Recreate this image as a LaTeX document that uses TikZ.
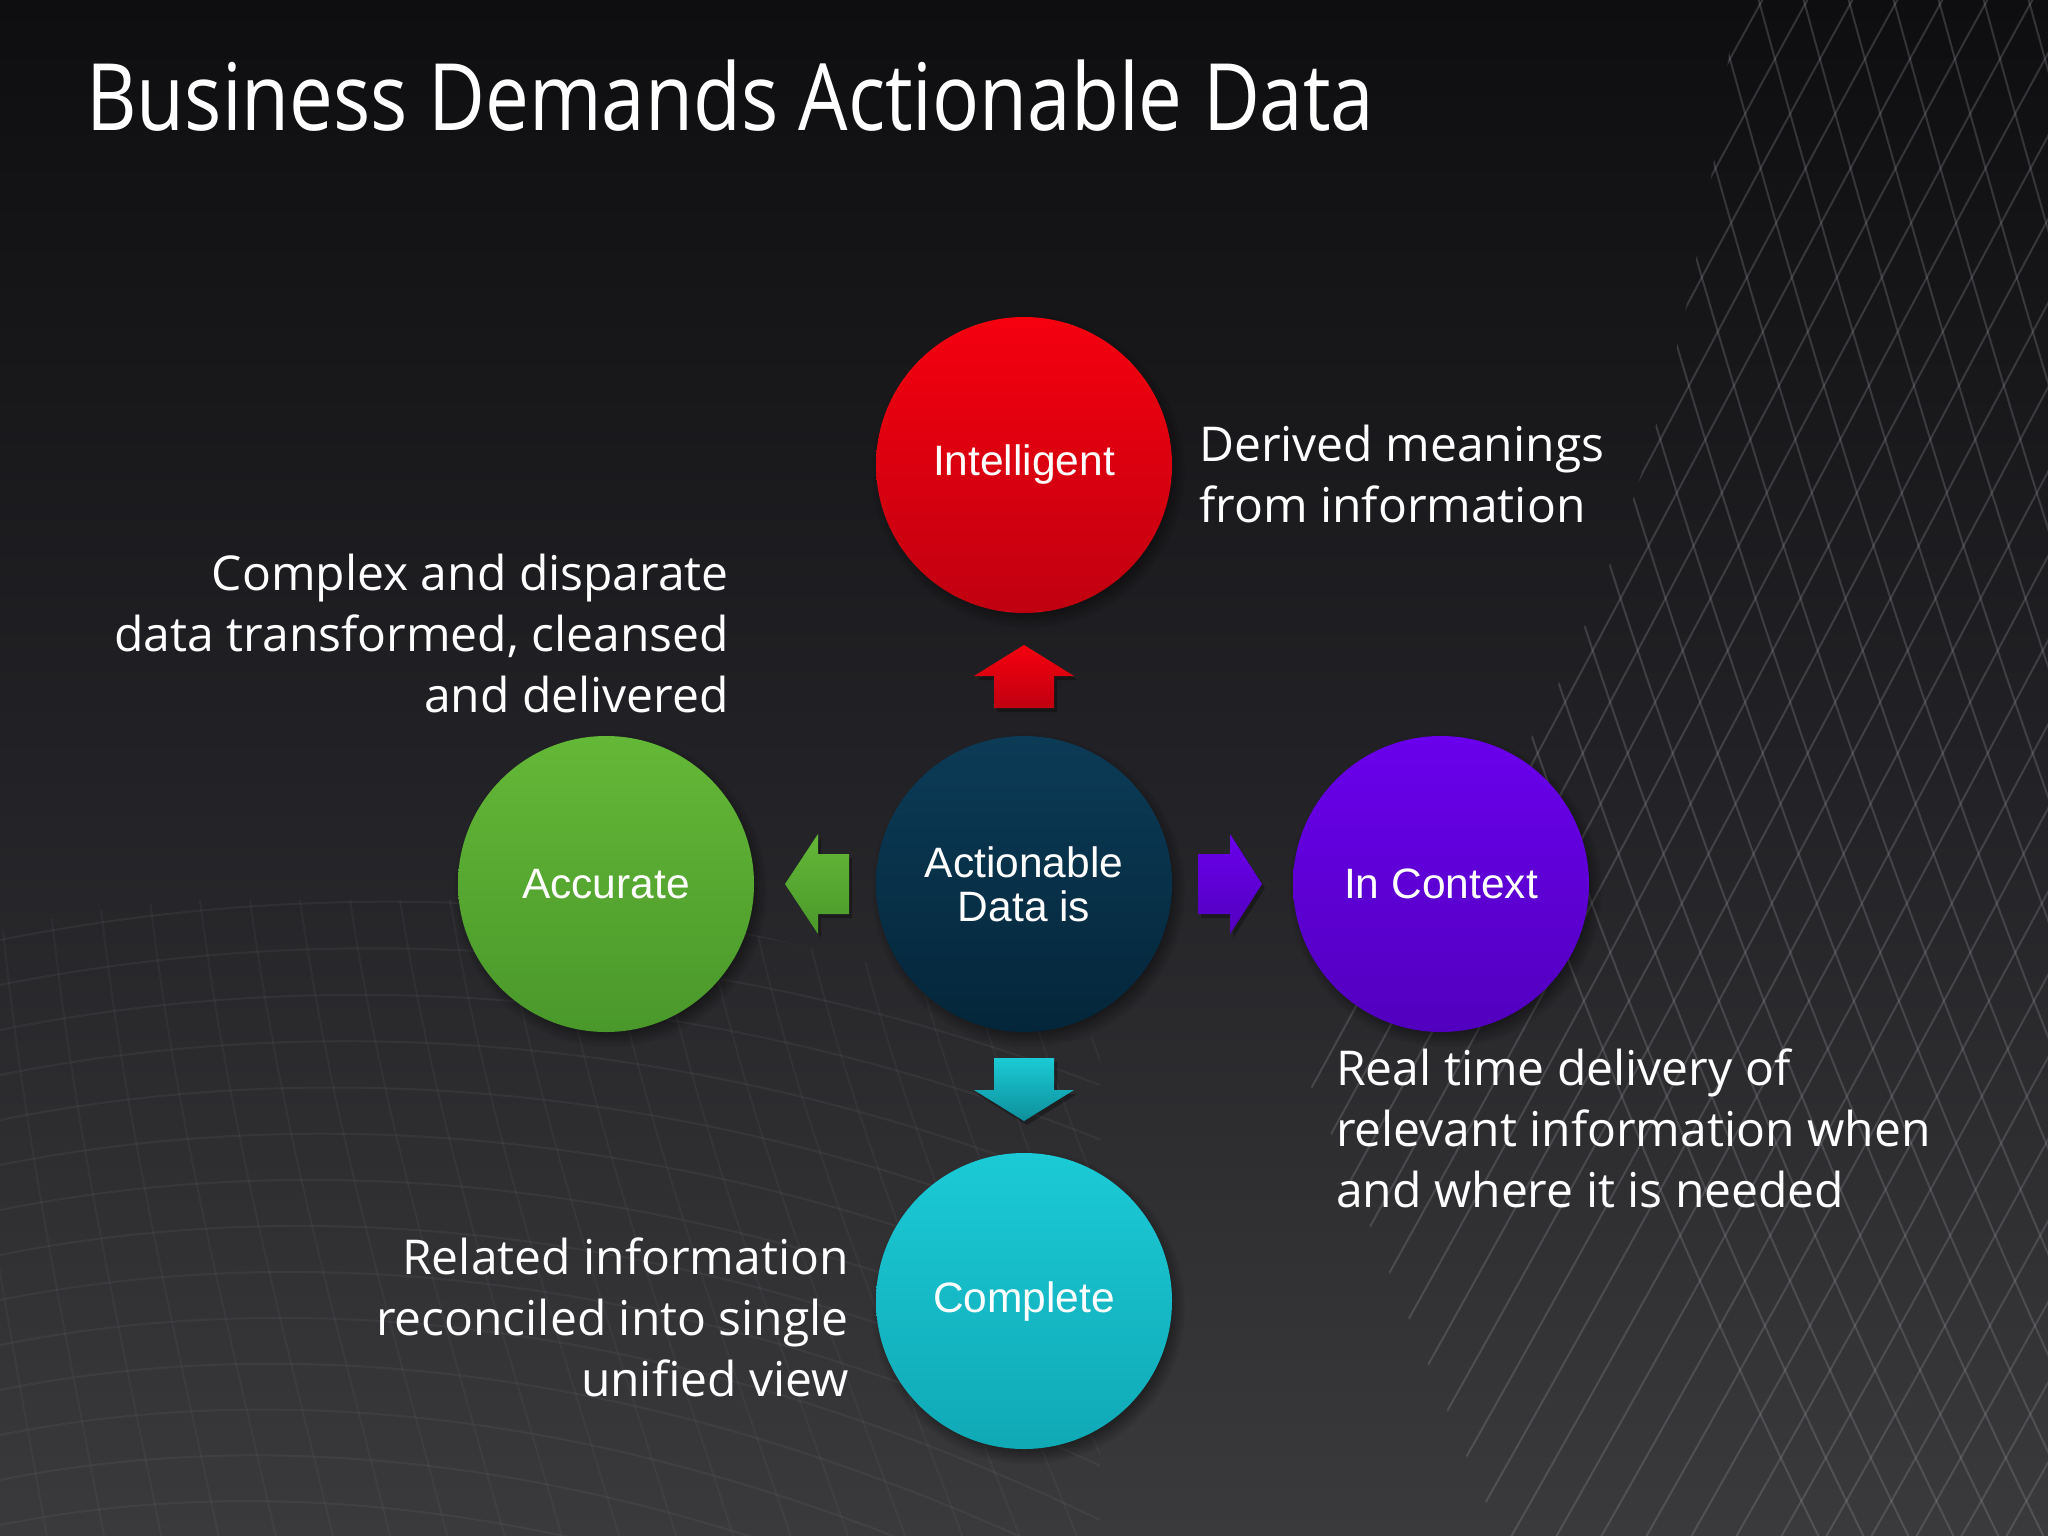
\documentclass[tikz,border=0pt]{standalone}
\usepackage{fontspec}
\setmainfont{Open Sans}
\newfontfamily\titlefont[FakeStretch=0.84]{Open Sans}
\newfontfamily\circfont{Liberation Sans}
\usetikzlibrary{shadows,calc}
\definecolor{bgtop}{HTML}{0E0E10}
\definecolor{bgmid}{HTML}{222226}
\definecolor{bgbot}{HTML}{3A3A3C}
\definecolor{redT}{HTML}{F5000F}
\definecolor{redB}{HTML}{C00010}
\definecolor{navyT}{HTML}{0C3B57}
\definecolor{navyB}{HTML}{04263A}
\definecolor{grnT}{HTML}{64B837}
\definecolor{grnB}{HTML}{4A982B}
\definecolor{purT}{HTML}{6A00EC}
\definecolor{purB}{HTML}{5200BE}
\definecolor{cyT}{HTML}{1BCAD6}
\definecolor{cyB}{HTML}{10A9B6}
\definecolor{meshc}{HTML}{8A8A90}
\tikzset{
  ball/.style={circle, minimum size=296pt, inner sep=0pt, text=white,
    font=\circfont\fontsize{42.5}{44}\selectfont, align=center,
    circular drop shadow={shadow xshift=4pt, shadow yshift=-6pt, opacity=0.55, shadow scale=1.06, fill=black}},
  desc/.style={text=white, font=\fontsize{48}{61}\selectfont, inner sep=0pt},
  blockarrow/.style={drop shadow={shadow xshift=3pt, shadow yshift=-4pt, opacity=0.3, fill=black}},
  meshline/.style={draw=meshc, line width=2pt}
}
\begin{document}
\begin{tikzpicture}[x=1pt,y=-1pt]
\useasboundingbox (0,0) rectangle (2048,1536);
% background
\shade[top color=bgtop, bottom color=bgbot, middle color=bgmid] (0,0) rectangle (2048,1536);
% right mesh
\begin{scope}
\clip (1735,0) .. controls (1690,420) and (1580,760) .. (1300,1060) -- (1500,1536) -- (2048,1536) -- (2048,0) -- cycle;
\foreach \i in {0,...,44}{
  \draw[meshline, opacity=0.3] ({1250+\i*45},-50) .. controls ({1250+\i*45+150},500) and ({1250+\i*45+300},1000) .. ({1250+\i*45+600},1600);
  \draw[meshline, opacity=0.3] ({1250+\i*45},-50) .. controls ({1250+\i*45-250},400) and ({1250+\i*45-500},900) .. ({1250+\i*45-900},1600);
}
\end{scope}
% bottom-left mesh
\begin{scope}
\clip (0,930) .. controls (300,860) and (700,880) .. (1100,1040) -- (1100,1536) -- (0,1536) -- cycle;
\foreach \i in {0,...,14}{
  \draw[meshline, opacity=0.1] (0,{940+\i*45}) .. controls (350,{870+\i*45}) and (750,{890+\i*50}) .. (1150,{1050+\i*55});
}
\foreach \i in {0,...,24}{
  \draw[meshline, opacity=0.08] ({-100+\i*50},900) .. controls ({-80+\i*52},1150) and ({-40+\i*55},1350) .. ({\i*58},1600);
}
\end{scope}
% title
\node[anchor=base west, text=white, inner sep=0pt, font=\titlefont\fontsize{93}{100}\selectfont] (title) at (86,131) {Business Demands Actionable Data};
% circles
\node[ball, top color=navyT, bottom color=navyB] (act) at (1024,884) {Actionable\\Data is};
\node[ball, top color=redT, bottom color=redB] (intel) at (1024,465) {Intelligent};
\node[ball, top color=grnT, bottom color=grnB] (acc) at (606,884) {Accurate};
\node[ball, top color=purT, bottom color=purB] (ctx) at (1441,884) {In Context};
\node[ball, top color=cyT, bottom color=cyB] (comp) at (1024,1301) {Complete};
% block arrows
\shade[blockarrow, top color=redT, bottom color=redB]
  ($(act)+(-30,-176)$) -- ($(act)+(-30,-208)$) -- ($(act)+(-50,-208)$) -- ($(act)+(0,-239)$)
  -- ($(act)+(50,-208)$) -- ($(act)+(30,-208)$) -- ($(act)+(30,-176)$) -- cycle;
\shade[blockarrow, top color=cyT, bottom color=cyB!85!black]
  ($(act)+(-30,174)$) -- ($(act)+(-30,206)$) -- ($(act)+(-50,206)$) -- ($(act)+(0,237)$)
  -- ($(act)+(50,206)$) -- ($(act)+(30,206)$) -- ($(act)+(30,174)$) -- cycle;
\shade[blockarrow, top color=grnT, bottom color=grnB]
  ($(act)+(-175,-30)$) -- ($(act)+(-206,-30)$) -- ($(act)+(-206,-50)$) -- ($(act)+(-239,0)$)
  -- ($(act)+(-206,50)$) -- ($(act)+(-206,30)$) -- ($(act)+(-175,30)$) -- cycle;
\shade[blockarrow, top color=purT, bottom color=purB]
  ($(act)+(174,-30)$) -- ($(act)+(206,-30)$) -- ($(act)+(206,-50)$) -- ($(act)+(238,0)$)
  -- ($(act)+(206,50)$) -- ($(act)+(206,30)$) -- ($(act)+(174,30)$) -- cycle;
% descriptions
\node[desc, anchor=west, align=left] (dIntel) at (1199,474) {Derived meanings\\from information};
\node[desc, anchor=east, align=right] (dAcc) at (729,633) {Complex and disparate\\data transformed, cleansed\\and delivered};
\node[desc, anchor=west, align=left] (dCtx) at (1336,1128) {Real time delivery of\\relevant information when\\and where it is needed};
\node[desc, anchor=east, align=right] (dComp) at (849,1317) {Related information\\reconciled into single\\unified view};
\end{tikzpicture}
\end{document}
